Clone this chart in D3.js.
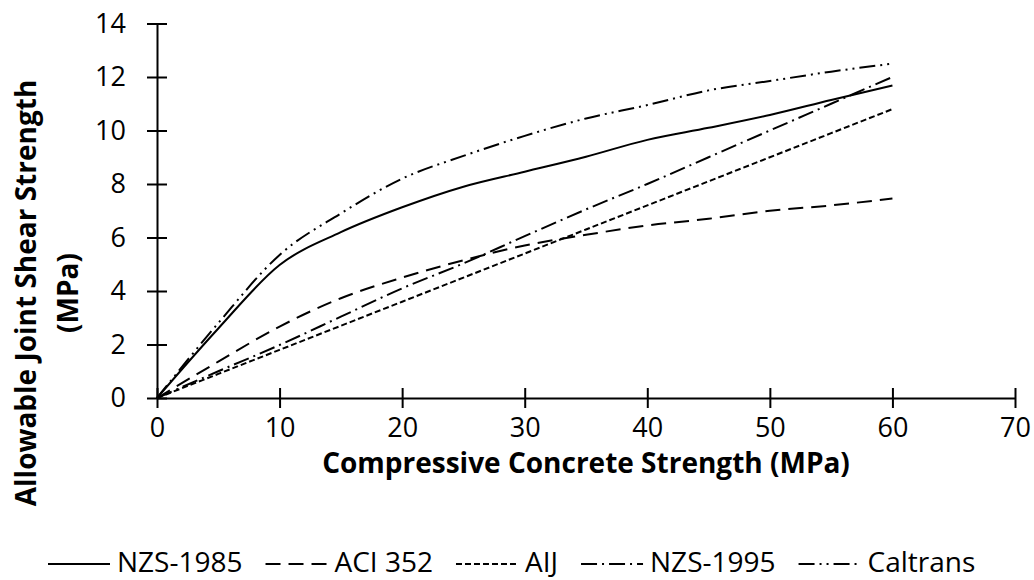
<!DOCTYPE html>
<html>
<head>
<meta charset="utf-8">
<script src="https://cdn.jsdelivr.net/npm/d3@7"></script>
<style>
    body { margin: 0; background: #fff; }
    text { font-family: "Open Sans", "Noto Sans", sans-serif; fill: #000; }
    .axis path, .axis line { stroke: #000; stroke-width: 2; }
    .axis text { font-size: 27px; }
    .axis-title { font-size: 28px; font-weight: bold; }
    .legend text { font-size: 28px; }
</style>
</head>
<body>
<div id="chart"></div>
<script>
// compressive strength (MPa) at which values were read
const strength = [0, 5, 10, 15, 20, 25, 30, 35, 40, 45, 50, 55, 60];

// allowable joint shear strength (MPa) for each code
const nzs1985 = [0, 2.6, 4.97, 6.2, 7.13, 7.9, 8.46, 9.02, 9.65, 10.1, 10.58, 11.14, 11.68];
const aci352 = [0, 1.36, 2.67, 3.73, 4.5, 5.15, 5.7, 6.1, 6.45, 6.7, 7.0, 7.2, 7.46];
const aij = [0, 0.9, 1.8, 2.7, 3.6, 4.5, 5.4, 6.3, 7.2, 8.1, 9.0, 9.9, 10.8];
const nzs1995 = [0, 1.0, 1.98, 3.04, 4.1, 5.03, 6.05, 7.05, 8.0, 9.0, 10.0, 11.0, 12.0];
const caltrans = [0, 2.8, 5.35, 6.9, 8.2, 9.05, 9.8, 10.45, 10.95, 11.5, 11.85, 12.2, 12.5];

const seriesNames = ["NZS-1985", "ACI 352", "AIJ", "NZS-1995", "Caltrans"];
const seriesValues = [nzs1985, aci352, aij, nzs1995, caltrans];
const dashes = [null, "15,8", "6,3", "16,5,2,5", "16,5,2,5,2,5"];

const xTicks = [0, 10, 20, 30, 40, 50, 60, 70];
const yTicks = [0, 2, 4, 6, 8, 10, 12, 14];

class LineChart {

    constructor(parentElement) {
        this.parentElement = parentElement;
        this.initVis();
    }

    initVis() {
        let vis = this;

        vis.width = 1034;
        vis.height = 580;

        vis.svg = d3.select("#" + vis.parentElement).append("svg")
            .attr("width", vis.width)
            .attr("height", vis.height);

        vis.x = d3.scaleLinear().domain([0, 70]).range([157, 1015]);
        vis.y = d3.scaleLinear().domain([0, 14]).range([398, 23.5]);

        // y axis, ticks crossing the line
        let yAxis = d3.axisLeft(vis.y)
            .tickValues(yTicks)
            .tickSizeInner(10)
            .tickSizeOuter(0)
            .tickPadding(21);

        let gy = vis.svg.append("g")
            .attr("class", "y-axis axis")
            .attr("transform", `translate(${vis.x(0)},0)`)
            .call(yAxis);
        gy.selectAll(".tick line").attr("x1", 10);

        // x axis
        let xAxis = d3.axisBottom(vis.x)
            .tickValues(xTicks)
            .tickSizeInner(10)
            .tickSizeOuter(0);

        let gx = vis.svg.append("g")
            .attr("class", "x-axis axis")
            .attr("transform", `translate(0,${vis.y(0)})`)
            .call(xAxis);
        gx.selectAll(".tick line").attr("y1", -10);
        gx.selectAll(".tick text").attr("dy", null).attr("y", 39);

        vis.svg.selectAll(".axis text").attr("fill", "#000");

        // axis titles
        vis.svg.append("text")
            .attr("class", "axis-title")
            .attr("x", 586)
            .attr("y", 473)
            .attr("text-anchor", "middle")
            .text("Compressive Concrete Strength (MPa)");

        let yTitle = vis.svg.append("g")
            .attr("transform", "translate(36,293) rotate(-90)");
        yTitle.append("text")
            .attr("class", "axis-title")
            .attr("text-anchor", "middle")
            .text("Allowable Joint Shear Strength");
        yTitle.append("text")
            .attr("class", "axis-title")
            .attr("text-anchor", "middle")
            .attr("y", 42)
            .text("(MPa)");

        vis.updateVis();
    }

    updateVis() {
        let vis = this;

        let line = d3.line()
            .x((d, i) => vis.x(strength[i]))
            .y(d => vis.y(d))
            .curve(d3.curveMonotoneX);

        vis.svg.append("g").selectAll(".series")
            .data(seriesValues)
            .join("path")
            .attr("class", "series")
            .attr("d", d => line(d))
            .attr("fill", "none")
            .attr("stroke", "#000")
            .attr("stroke-width", 2)
            .attr("stroke-dasharray", (d, i) => dashes[i]);

        // legend
        let legend = vis.svg.append("g").attr("class", "legend");
        let xPos = 48;
        seriesNames.forEach((name, i) => {
            legend.append("line")
                .attr("x1", xPos)
                .attr("x2", xPos + 62)
                .attr("y1", 564)
                .attr("y2", 564)
                .attr("stroke", "#000")
                .attr("stroke-width", 2)
                .attr("stroke-dasharray", dashes[i]);
            let t = legend.append("text")
                .attr("x", xPos + 69)
                .attr("y", 572)
                .text(name);
            xPos += 69 + t.node().getComputedTextLength() + 23;
        });
    }
}

new LineChart("chart");
</script>
</body>
</html>
